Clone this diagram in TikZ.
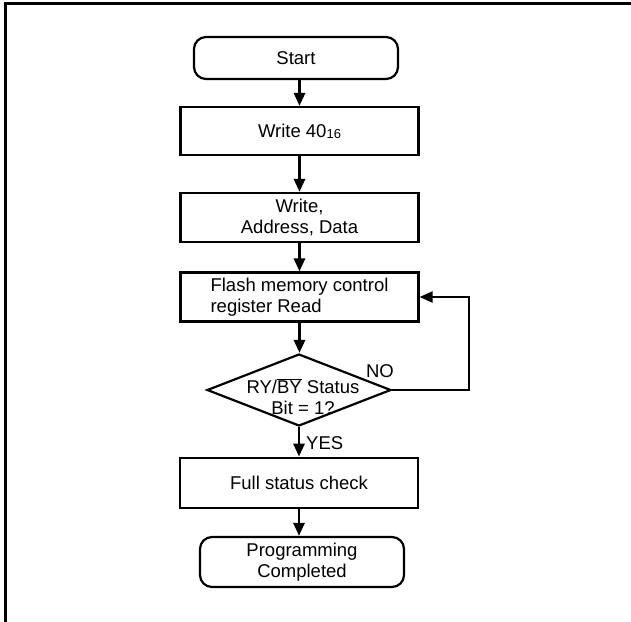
\documentclass[tikz,border=0pt]{standalone}
\usepackage{fontspec}
\setmainfont{Liberation Sans}
\usetikzlibrary{shapes.geometric,arrows.meta}
\begin{document}
\begin{tikzpicture}[x=1pt,y=-1pt,
  base/.style={draw=black,line width=2.2pt,inner sep=0pt,font=\fontsize{18.5}{21}\selectfont},
  term/.style={base,rectangle,rounded corners=12pt,minimum width=204pt,align=center},
  proc/.style={base,rectangle,minimum width=238pt,align=center},
  decis/.style={base,diamond,minimum width=184pt,minimum height=72pt},
  lbl/.style={inner sep=0pt,font=\fontsize{18.5}{21}\selectfont},
  arr/.style={line width=2.8pt,-{Triangle[length=13pt,width=11pt]}},
  looparr/.style={line width=2.2pt,-{Triangle[length=13pt,width=11pt]}}]
\useasboundingbox (0,0) rectangle (631,621);
\draw[line width=3pt] (5,622) -- (5,3) -- (632,3);

\node[term,minimum height=42pt] (start) at (296,58) {Start};
\node[proc,minimum height=48pt] (w40) at (299.5,131) {Write 40{\fontsize{13}{13}\selectfont\raisebox{-1pt}{16}}};
\node[proc,minimum height=49pt] (wad) at (299.5,217.5) {Write,\\Address, Data};
\node[proc,minimum height=49pt,align=left] (flash) at (299.5,297) {Flash memory control\\register Read};
\node[decis] (dec) at (299,390) {};
\node[lbl,align=center] (dectext) at (303,397) {RY/$\overline{\mbox{BY}}$ Status\\Bit = 1?};
\node[proc,minimum height=50pt] (full) at (299,482.7) {Full status check};
\node[term,minimum height=50pt] (done) at (302,562) {Programming\\Completed};

\node[lbl] (no) at (380,371) {NO};
\node[lbl,anchor=west] (yes) at (306,443) {YES};

\coordinate (loopr) at (469,390);
\draw[arr] (start.south -| w40.north) -- (w40.north);
\draw[arr] (w40.south) -- (wad.north);
\draw[arr] (wad.south) -- (flash.north);
\draw[arr] (flash.south) -- (flash.south |- dec.north);
\draw[looparr] (dec.east) -- (loopr) |- (flash.east);
\draw[arr] (dec.south -| full.north) -- (full.north);
\draw[arr] (full.south) -- (full.south |- done.north);
\end{tikzpicture}
\end{document}
